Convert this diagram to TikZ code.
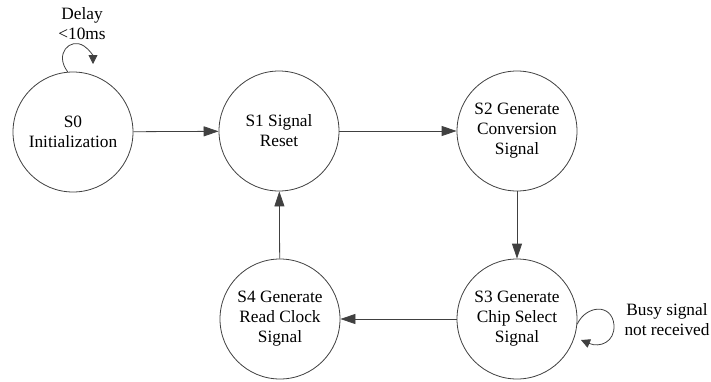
\documentclass[tikz,border=0pt]{standalone}
\usepackage{fontspec}
\newfontfamily\tnr{LiberationSerif-Regular.ttf}
\usetikzlibrary{arrows.meta}
\begin{document}
\begin{tikzpicture}[x=1pt,y=-1pt,
  state/.style={circle,draw=black!75,line width=0.8pt,minimum size=120pt,inner sep=0pt,
    align=center,font=\tnr\fontsize{17.3}{20}\selectfont},
  conn/.style={draw=black!75,line width=0.8pt,-{Triangle[length=15pt,width=10pt]}},
  loopc/.style={draw=black!75,line width=0.8pt,-{Triangle[length=9pt,width=9pt]}},
  lbl/.style={align=center,font=\tnr\fontsize{17.3}{20}\selectfont,inner sep=0pt}]
\useasboundingbox (0,0) rectangle (711,381);
\node[state] (s0) at (73,132) {S0\\Initialization};
\node[state] (s1) at (279,131) {S1 Signal\\Reset};
\node[state] (s2) at (517,131) {S2 Generate\\Conversion\\Signal};
\node[state] (s3) at (517,319) {S3 Generate\\Chip Select\\Signal};
\node[state] (s4) at (280,319) {S4 Generate\\Read Clock\\Signal};
\draw[conn] (s0) -- (s1);
\draw[conn] (s1) -- (s2);
\draw[conn] (s2) -- (s3);
\draw[conn] (s3) -- (s4);
\draw[conn] (s4) -- (s1);
\coordinate (l0) at (93,64);
\draw[loopc] (s0.95) .. controls (54,54) and (70,37) .. (84,46) .. controls (90,50) and (93,56) .. (l0);
\coordinate (l3) at (581,340);
\draw[loopc] (s3.-5) .. controls (586,305) and (612,303) .. (614,325) .. controls (615,342) and (600,348) .. (l3);
\node[lbl] (d0) at (82,24) {Delay\\<10ms};
\node[lbl] (d3) at (667,320) {Busy signal\\not received};
\end{tikzpicture}
\end{document}
